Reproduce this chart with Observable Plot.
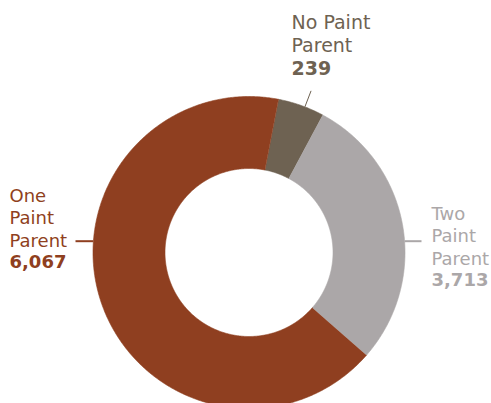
<!DOCTYPE html>
<html><head><meta charset="utf-8">
<script src="https://cdn.jsdelivr.net/npm/d3@7"></script>
<script src="https://cdn.jsdelivr.net/npm/@observablehq/plot@0.6"></script>
<style>
html,body{margin:0;padding:0;background:#fff;overflow:hidden}
#chart svg{display:block}
</style>
</head><body><div id="chart"></div>
<script>
// ---- data ----
const categories = ["No Paint Parent", "Two Paint Parent", "One Paint Parent"];
const nameLines = ["No Paint\nParent", "Two\nPaint\nParent", "One\nPaint\nParent"];
const counts = [239, 3713, 6067];
// share of the ring each slice covers in the picture (percent, estimated from the arc angles)
const shares = [4.8, 28.6, 66.6];
const colors = ["#6e6252", "#aba7a8", "#8f3f20"];

// ---- layout ----
const W = 491, H = 403;
const cx = 248.5, cy = 252, R = 156, rInner = 84;
const startDeg = 10.9;
const innerRatio = rInner / R;
const px2x = px => (px - cx) / R;
const px2y = py => (cy - py) / R;

// slice polygons
const total = d3.sum(shares);
const slices = [];
let a = startDeg;
categories.forEach((c, i) => {
  const span = shares[i] / total * 360;
  const a0 = a, a1 = a + span;
  const n = Math.max(2, Math.ceil(span / 0.5));
  const pts = [];
  for (let k = 0; k <= n; k++) { const t = (a0 + (a1 - a0) * k / n) * Math.PI / 180; pts.push([Math.sin(t), Math.cos(t)]); }
  for (let k = n; k >= 0; k--) { const t = (a0 + (a1 - a0) * k / n) * Math.PI / 180; pts.push([innerRatio * Math.sin(t), innerRatio * Math.cos(t)]); }
  pts.forEach(([x, y], j) => slices.push({cat: c, x, y, order: j}));
  a = a1;
});

// label layout (pixel anchors: x = left edge, y = baseline of last name line / value line)
const labelPos = {
  "No Paint Parent": {x: 291, yName: 51.7, yVal: 74, size: 19},
  "Two Paint Parent": {x: 431, yName: 264, yVal: 285.5, size: 18},
  "One Paint Parent": {x: 9, yName: 246, yVal: 267.5, size: 18}
};
const names = categories.map((c, i) => ({cat: c, text: nameLines[i], x: px2x(labelPos[c].x), y: px2y(labelPos[c].yName), color: colors[i], size: labelPos[c].size}));
const values = categories.map((c, i) => ({cat: c, text: d3.format(",")(counts[i]), x: px2x(labelPos[c].x), y: px2y(labelPos[c].yVal), color: colors[i], size: labelPos[c].size}));

// leaders
const ly = px2y(240.7);
const leaderAng = 21 * Math.PI / 180;
const leaders = [
  {cat: categories[0], x1: Math.sin(leaderAng), y1: Math.cos(leaderAng), x2: 1.11 * Math.sin(leaderAng), y2: 1.11 * Math.cos(leaderAng), color: colors[0], w: 1},
  {cat: categories[1], x1: Math.sqrt(1 - ly * ly), y1: ly, x2: px2x(421), y2: ly, color: colors[1], w: 2},
  {cat: categories[2], x1: -Math.sqrt(1 - ly * ly), y1: ly, x2: px2x(75), y2: ly, color: colors[2], w: 2}
];

const font = "DejaVu Sans";
const colorOf = Object.fromEntries(categories.map((c, i) => [c, colors[i]]));

const chart = Plot.plot({
  width: W, height: H,
  margin: 0,
  x: {domain: [-1, 1], range: [cx - R, cx + R], axis: null},
  y: {domain: [-1, 1], range: [cy + R, cy - R], axis: null},
  style: {fontFamily: font, background: "#fff", overflow: "hidden"},
  marks: [
    Plot.line(slices, {x: "x", y: "y", z: "cat", fill: d => colorOf[d.cat], stroke: d => colorOf[d.cat], strokeWidth: 0.6, curve: "linear"}),
    Plot.link(leaders, {x1: "x1", y1: "y1", x2: "x2", y2: "y2", stroke: "color", strokeWidth: "w"}),
    Plot.text(names, {x: "x", y: "y", text: "text", fill: "color", textAnchor: "start", lineAnchor: "bottom", lineHeight: 1.23, fontSize: "size", fontFamily: font}),
    Plot.text(values, {x: "x", y: "y", text: "text", fill: "color", textAnchor: "start", lineAnchor: "bottom", fontSize: "size", fontWeight: "bold", fontFamily: font})
  ]
});
document.getElementById("chart").appendChild(chart);
</script>
</body></html>
